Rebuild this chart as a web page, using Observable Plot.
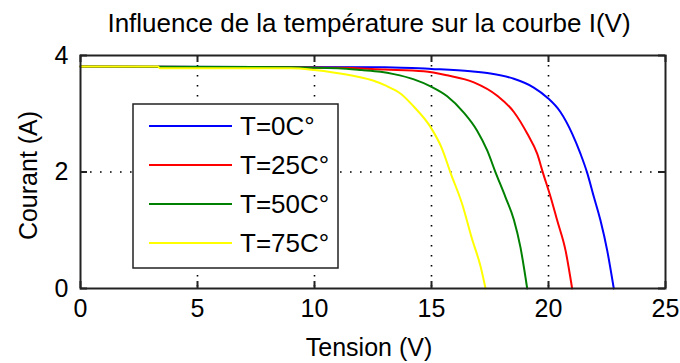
<!DOCTYPE html>
<html><head><meta charset="utf-8">
<script src="https://cdn.jsdelivr.net/npm/d3@7"></script>
<script src="https://cdn.jsdelivr.net/npm/@observablehq/plot@0.6"></script>
<style>body{margin:0;background:#fff} #chart{width:680px;height:363px}</style>
</head><body><div id="chart"></div>
<script>
const title = "Influence de la température sur la courbe I(V)";
const xLabel = "Tension (V)";
const yLabel = "Courant (A)";
const xTicks = [0, 5, 10, 15, 20, 25];
const yTicks = [0, 2, 4];
const seriesNames = ["T=0C°", "T=25C°", "T=50C°", "T=75C°"];
const seriesColors = ["#0000ff", "#ff0000", "#008000", "#ffff00"];

// T = 0 °C
const tension0 = [0, 13, 15, 16.67, 17.52, 18.52, 19.37, 19.94, 20.51, 21.01, 21.37, 21.65, 21.94, 22.22, 22.51, 22.79];
const courant0 = [3.81, 3.80, 3.77, 3.73, 3.69, 3.60, 3.45, 3.28, 3.03, 2.66, 2.31, 1.99, 1.57, 1.17, 0.65, 0];
// T = 25 °C
const tension25 = [0, 11, 13, 14.67, 15.67, 16.81, 17.81, 18.52, 19.09, 19.52, 19.76, 20.09, 20.37, 20.73, 21.01];
const courant25 = [3.81, 3.79, 3.76, 3.73, 3.66, 3.54, 3.31, 3.03, 2.66, 2.31, 1.99, 1.57, 1.17, 0.65, 0];
// T = 50 °C
const tension50 = [0, 9.0, 11.0, 12.0, 12.82, 13.39, 14.25, 14.96, 15.67, 16.38, 16.95, 17.38, 17.74, 18.16, 18.52, 18.80, 19.09];
const courant50 = [3.81, 3.80, 3.78, 3.75, 3.72, 3.68, 3.59, 3.47, 3.30, 3.02, 2.71, 2.37, 1.99, 1.57, 1.18, 0.71, 0];
// T = 75 °C
const tension75 = [0, 3.3, 3.4, 9.0, 10.0, 10.8, 11.8, 12.5, 13.0, 13.7, 14.25, 14.96, 15.46, 15.81, 16.31, 16.74, 17.09, 17.31];
const courant75 = [3.81, 3.81, 3.78, 3.78, 3.75, 3.71, 3.64, 3.57, 3.49, 3.34, 3.12, 2.77, 2.39, 1.99, 1.45, 0.84, 0.39, 0];

const seriesV = [tension0, tension25, tension50, tension75];
const seriesI = [courant0, courant25, courant50, courant75];
const data = [];
seriesNames.forEach((s, k) => seriesV[k].forEach((v, j) => data.push({serie: s, v, i: seriesI[k][j]})));

const W = 680, H = 363, mL = 80, mR = 15, mT = 55, mB = 75;
const innerW = W - mL - mR, innerH = H - mT - mB, tickLen = 7;
const font = "'Liberation Sans', Arial, sans-serif";

const plot = Plot.plot({
  width: W, height: H, marginLeft: mL, marginRight: mR, marginTop: mT, marginBottom: mB,
  style: {fontFamily: font, fontSize: "25px", color: "#000", background: "#fff"},
  x: {domain: [0, 25]},
  y: {domain: [0, 4]},
  color: {domain: seriesNames, range: seriesColors},
  marks: [
    Plot.gridX(xTicks.slice(1, -1), {stroke: "#000", strokeOpacity: 1, strokeWidth: 1.6, strokeDasharray: "1.6,8.4"}),
    Plot.gridY(yTicks.slice(1, -1), {stroke: "#000", strokeOpacity: 1, strokeWidth: 1.6, strokeDasharray: "1.6,8.4"}),
    Plot.tickX(xTicks, {x: d => d, insetTop: innerH - tickLen, stroke: "#222", strokeWidth: 2}),
    Plot.tickX(xTicks, {x: d => d, insetBottom: innerH - tickLen, stroke: "#222", strokeWidth: 2}),
    Plot.tickY(yTicks, {y: d => d, insetRight: innerW - tickLen, stroke: "#222", strokeWidth: 2}),
    Plot.tickY(yTicks, {y: d => d, insetLeft: innerW - tickLen, stroke: "#222", strokeWidth: 2}),
    Plot.line(data, {x: "v", y: "i", z: "serie", stroke: "serie", strokeWidth: 2, curve: "monotone-x"}),
    Plot.frame({stroke: "#222", strokeWidth: 2}),
    Plot.axisX(xTicks, {tickSize: 0, tickPadding: 11, fontSize: 25, label: null, tickFormat: d => String(d)}),
    Plot.axisY(yTicks, {tickSize: 0, tickPadding: 12, fontSize: 25, label: null, tickFormat: d => String(d)}),
    Plot.text([title], {frameAnchor: "top", dx: -4, dy: -32, fontSize: 26, lineAnchor: "middle"}),
    Plot.text([xLabel], {frameAnchor: "bottom", dx: -4, dy: 59, fontSize: 25, lineAnchor: "middle"})
  ]
});

const svg = d3.select(plot);
// y-axis label (rotated)
svg.append("text")
  .attr("transform", `translate(${mL - 52},${mT + innerH / 2 + 4}) rotate(-90)`)
  .attr("text-anchor", "middle").attr("dy", "0.35em")
  .attr("font-family", font).attr("font-size", 25).attr("fill", "#000")
  .text(yLabel);

// legend box (inside the axes, top-left)
const lg = svg.append("g").attr("font-family", font).attr("font-size", 26).attr("text-anchor", "start");
lg.append("rect").attr("x", 133).attr("y", 104).attr("width", 205).attr("height", 164)
  .attr("fill", "#fff").attr("stroke", "#222").attr("stroke-width", 1.5);
seriesNames.forEach((s, k) => {
  const y = 126 + 39 * k;
  lg.append("line").attr("x1", 149).attr("x2", 232).attr("y1", y).attr("y2", y)
    .attr("stroke", seriesColors[k]).attr("stroke-width", 2);
  lg.append("text").attr("x", 240).attr("y", y).attr("dy", "0.35em").attr("fill", "#000").text(s);
});

document.getElementById("chart").append(plot);
</script>
</body></html>
